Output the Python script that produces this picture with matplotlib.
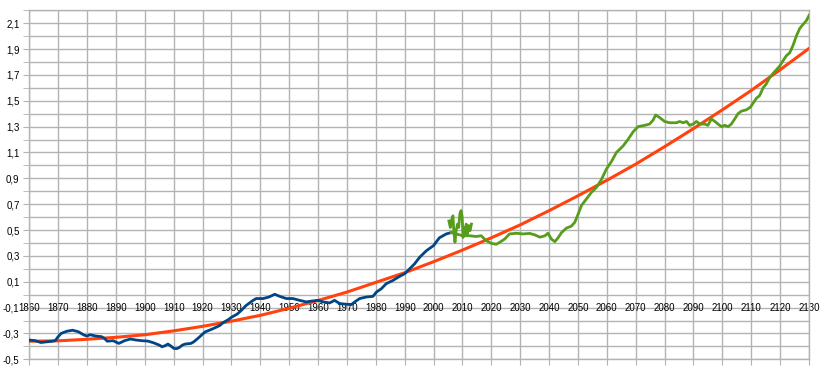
import matplotlib
matplotlib.use("Agg")
import matplotlib.pyplot as plt
import numpy as np
from matplotlib.ticker import MultipleLocator, FixedLocator

plt.rcParams['font.family'] = ['Liberation Sans', 'DejaVu Sans']

# ---- data ----
blue_years = [1860, 1862, 1864, 1866, 1868, 1869, 1870, 1871, 1873, 1875, 1877, 1879, 1880, 1881,
              1883, 1885, 1886, 1887, 1889, 1891, 1893, 1895, 1897, 1899, 1901, 1903, 1905, 1906,
              1907, 1908, 1909, 1910, 1911, 1912, 1913, 1914, 1916, 1917, 1919, 1920, 1921, 1923,
              1925, 1926, 1927, 1929, 1930, 1932, 1933.5, 1935, 1937.5, 1938.6, 1941, 1943, 1945,
              1946.7, 1949, 1951.3, 1953.6, 1955.9, 1957.6, 1960, 1961.7, 1964, 1965.7, 1967.5,
              1969.8, 1971.5, 1972.7, 1974.4, 1976.7, 1979, 1980.2, 1981.9, 1983.6, 1985.9, 1988.2,
              1990, 1991.7, 1993.4, 1995.2, 1997.5, 2000, 2002, 2004.4, 2006.1]
blue_values = [-0.351, -0.356, -0.37, -0.365, -0.36, -0.355, -0.325, -0.30, -0.283, -0.275, -0.287,
               -0.313, -0.32, -0.31, -0.32, -0.325, -0.338, -0.36, -0.356, -0.377, -0.356, -0.343,
               -0.351, -0.356, -0.359, -0.372, -0.39, -0.403, -0.395, -0.382, -0.397, -0.415, -0.418,
               -0.408, -0.39, -0.382, -0.377, -0.364, -0.326, -0.305, -0.287, -0.269, -0.249, -0.238,
               -0.218, -0.192, -0.175, -0.15, -0.12, -0.085, -0.044, -0.03, -0.03, -0.018, 0.003,
               -0.013, -0.03, -0.03, -0.044, -0.056, -0.05, -0.044, -0.056, -0.064, -0.044, -0.069,
               -0.074, -0.077, -0.056, -0.03, -0.018, -0.013, 0.02, 0.046, 0.085, 0.11, 0.141,
               0.162, 0.2, 0.238, 0.29, 0.34, 0.38, 0.44, 0.47, 0.48]

green_years = [2006.1, 2007.8, 2010.1, 2012.4, 2014.7, 2016.5, 2018.2, 2020, 2021.7, 2022.9, 2024.6,
               2026.3, 2028.7, 2031, 2033.3, 2035.0, 2036.8, 2038.5, 2039.6, 2040.8, 2042, 2043.1,
               2044.3, 2046.0, 2047.7, 2048.9, 2050.0, 2051.2, 2052.9, 2054.6, 2056.4, 2058.1,
               2059.8, 2061.6, 2063.3, 2065.6, 2067.3, 2069.1, 2070.8, 2073.1, 2074.8, 2076.0,
               2076.9, 2078.3, 2080.0, 2081.8, 2084.1, 2085.2, 2086.4, 2087.6, 2088.7, 2089.9,
               2091.0, 2092.2, 2093.9, 2095.0, 2096.2, 2097.4, 2098.5, 2099.7, 2100.8, 2102.0,
               2103.1, 2104.3, 2105.4, 2106.6, 2108.3, 2109.7, 2110.6, 2111.8, 2112.9, 2114.1,
               2115.2, 2116.4, 2117.5, 2118.7, 2119.9, 2121.0, 2122.2, 2123.3, 2124.5, 2125.6,
               2126.8, 2127.9, 2129.1, 2130]
green_values = [0.48, 0.47, 0.456, 0.456, 0.45, 0.456, 0.418, 0.397, 0.39, 0.405, 0.43, 0.47, 0.475,
                0.47, 0.474, 0.463, 0.445, 0.455, 0.475, 0.43, 0.41, 0.44, 0.48, 0.515, 0.53, 0.56,
                0.62, 0.69, 0.74, 0.79, 0.83, 0.89, 0.97, 1.03, 1.10, 1.15, 1.20, 1.26, 1.30, 1.31,
                1.32, 1.35, 1.39, 1.37, 1.34, 1.33, 1.33, 1.34, 1.33, 1.34, 1.31, 1.32, 1.34, 1.32,
                1.32, 1.31, 1.36, 1.34, 1.32, 1.30, 1.31, 1.30, 1.32, 1.36, 1.40, 1.42, 1.43, 1.45,
                1.48, 1.52, 1.54, 1.60, 1.63, 1.68, 1.71, 1.74, 1.77, 1.81, 1.85, 1.87, 1.93, 2.00,
                2.06, 2.09, 2.12, 2.16]

spike_years = [2005.3, 2005.8, 2006.3, 2006.7, 2007.0, 2007.4, 2007.8, 2008.3, 2008.7, 2009.1,
               2009.5, 2009.9, 2010.2, 2010.6, 2010.9, 2011.3, 2011.7, 2012.2, 2012.6, 2013.1]
spike_values = [0.57, 0.52, 0.585, 0.61, 0.495, 0.405, 0.495, 0.546, 0.52, 0.625, 0.65, 0.6,
                0.443, 0.52, 0.47, 0.546, 0.47, 0.534, 0.495, 0.546]

trend_years = list(range(1860, 2131, 10))
trend_values = [-0.36, -0.357, -0.345, -0.33, -0.31, -0.28, -0.245, -0.205, -0.16, -0.105,
                -0.045, 0.02, 0.095, 0.17, 0.255, 0.345, 0.44, 0.54, 0.65, 0.765, 0.885, 1.01,
                1.145, 1.285, 1.43, 1.58, 1.74, 1.905]

x_labels = [str(y) for y in range(1860, 2131, 10)]
y_label_values = [-0.5, -0.3, -0.1, 0.1, 0.3, 0.5, 0.7, 0.9, 1.1, 1.3, 1.5, 1.7, 1.9, 2.1]

# ---- figure ----
fig = plt.figure(figsize=(8.26, 3.69), dpi=100)
ax = fig.add_axes([29.3 / 826, 1 - 359.3 / 369, (809 - 29.3) / 826, (359.3 - 10.3) / 369])
ax.set_xlim(1860, 2130)
ax.set_ylim(-0.5, 2.2)

grid_c = '#b3b3b3'
ax.xaxis.set_major_locator(MultipleLocator(10))
ax.yaxis.set_major_locator(FixedLocator(y_label_values))
ax.yaxis.set_minor_locator(MultipleLocator(0.1))
ax.grid(True, which='both', color=grid_c, linewidth=1.0)
ax.set_axisbelow(True)
for s in ax.spines.values():
    s.set_color(grid_c)
    s.set_linewidth(1.0)

ax.set_yticklabels([f"{v:.1f}".replace('.', ',') for v in y_label_values])
ax.tick_params(axis='y', which='both', length=4, color=grid_c, pad=3, labelsize=7)
ax.tick_params(axis='x', which='major', length=4, color=grid_c, labelbottom=False)

for lab in x_labels:
    ax.text(int(lab), -0.1, lab, ha='center', va='center', fontsize=7, color='black', zorder=1)

ax.plot(trend_years, trend_values, color='#ff420e', linewidth=2.2, zorder=3,
        solid_capstyle='round')
ax.plot(blue_years, blue_values, color='#004586', linewidth=2.0, zorder=4)
ax.plot(green_years, green_values, color='#579d1c', linewidth=2.0, zorder=4)
ax.plot(spike_years, spike_values, color='#579d1c', linewidth=2.0, zorder=4)

fig.savefig('out.png', dpi=100)
